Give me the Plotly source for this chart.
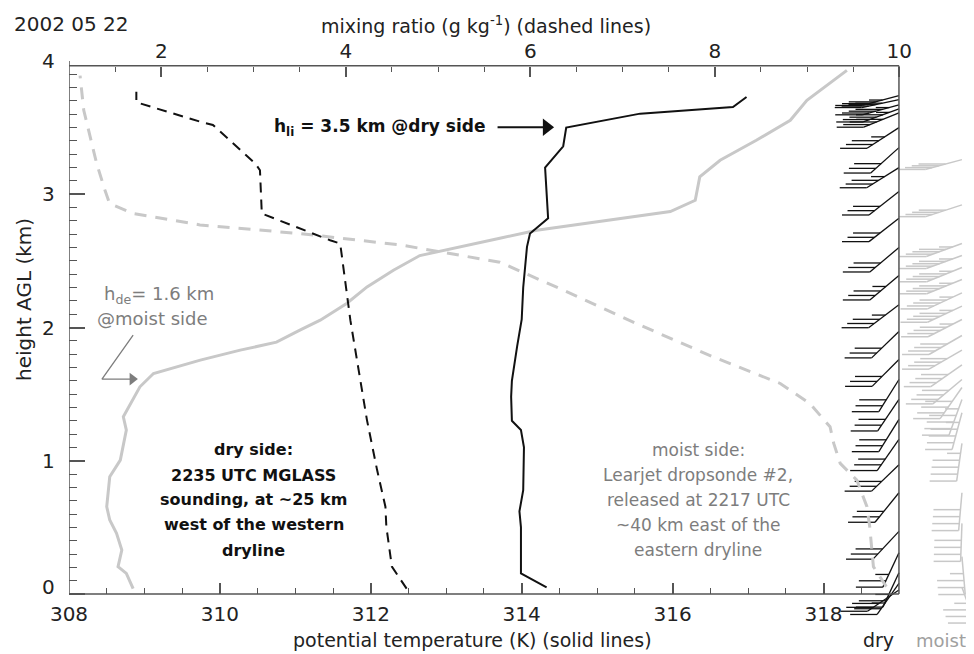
import math
import plotly.graph_objects as go

# ---------------- data ----------------
# dry side (MGLASS) potential temperature, K
dry_theta_h = [0.05, 0.155, 0.50, 0.62, 0.78, 1.10, 1.23, 1.30, 1.48, 1.60, 1.86, 2.06, 2.30,
               2.605, 2.705, 2.82, 3.20, 3.36, 3.50, 3.605, 3.655, 3.73]
dry_theta = [314.33, 313.99, 313.99, 313.97, 314.02, 314.03, 313.99, 313.87, 313.86, 313.87, 313.94,
             314.00, 314.02, 314.07, 314.11, 314.35, 314.31, 314.55, 314.59, 315.57, 316.80, 316.98]

# dry side mixing ratio, g/kg
dry_q_h = [0.04, 0.205, 0.505, 0.655, 0.93, 1.305, 1.68, 2.005, 2.055, 2.63, 2.655, 2.855,
           3.18, 3.23, 3.52, 3.545, 3.69, 3.77]
dry_q = [4.66, 4.50, 4.44, 4.43, 4.34, 4.23, 4.14, 4.06, 4.05, 3.94, 3.83, 3.09,
         3.07, 3.02, 2.56, 2.42, 1.73, 1.73]

# moist side (dropsonde) potential temperature, K
moist_theta_h = [0.04, 0.155, 0.205, 0.33, 0.455, 0.555, 0.655, 0.88, 1.005, 1.23, 1.33, 1.555,
                 1.655, 1.755, 1.83, 1.89, 1.98, 2.055, 2.18, 2.305, 2.43, 2.54, 2.67, 2.73,
                 2.87, 2.955, 3.13, 3.255, 3.405, 3.555, 3.705, 3.93]
moist_theta = [308.85, 308.76, 308.65, 308.70, 308.63, 308.54, 308.50, 308.54, 308.68, 308.76,
               308.72, 308.94, 309.12, 309.74, 310.27, 310.75, 311.06, 311.33, 311.68, 311.95,
               312.30, 312.65, 313.71, 314.20, 315.97, 316.30, 316.36, 316.63, 317.11, 317.56,
               317.78, 318.31]

# moist side mixing ratio, g/kg
moist_q_h = [0.055, 0.205, 0.505, 0.655, 0.855, 0.98, 1.13, 1.255, 1.43, 1.58, 1.78, 2.03,
             2.28, 2.49, 2.62, 2.705, 2.77, 2.855, 2.93, 3.03, 3.23, 3.63, 3.89]
moist_q = [9.86, 9.72, 9.68, 9.65, 9.54, 9.36, 9.29, 9.25, 9.03, 8.71, 7.98, 7.15,
           6.36, 5.67, 4.59, 3.50, 2.42, 1.70, 1.44, 1.39, 1.30, 1.16, 1.12]

# wind barbs: height (km), direction (deg), speed (kt)
dry_wind_h = [3.74, 3.71, 3.67, 3.64, 3.61, 3.50, 3.35, 3.20, 3.02, 2.82, 2.60, 2.39, 2.17,
              1.97, 1.76, 1.61, 1.46, 1.31, 1.16, 0.97, 0.76, 0.47, 0.31, 0.16, 0.08, 0.03]
dry_wind_dir = [255, 258, 255, 250, 248, 237, 228, 238, 232, 232, 230, 230, 233,
                226, 225, 212, 214, 212, 215, 226, 219, 223, 205, 205, 215, 236]
dry_wind_spd = [35, 40, 45, 45, 40, 35, 30, 35, 30, 30, 30, 35, 35,
                30, 30, 30, 30, 30, 30, 30, 30, 30, 25, 25, 25, 30]

moist_wind_h = [3.26, 2.92, 2.63, 2.54, 2.45, 2.36, 2.26, 2.16, 2.06, 1.94, 1.83, 1.72, 1.61,
                1.55, 1.46, 1.36, 1.13, 0.76, 0.53, 0.28, 0.05]
moist_wind_dir = [255, 252, 250, 250, 248, 248, 245, 245, 243, 240, 240, 235, 230,
                  215, 200, 195, 188, 185, 182, 175, 160]
moist_wind_spd = [40, 40, 45, 45, 45, 45, 45, 45, 45, 40, 40, 40, 40,
                  40, 45, 45, 45, 40, 40, 35, 35]

theta_ticks = [308, 310, 312, 314, 316, 318]
q_ticks = [2, 4, 6, 8, 10]
h_ticks = [0, 1, 2, 3, 4]

dry_lines = ["dry side:", "2235 UTC MGLASS", "sounding, at ~25 km",
             "west of the western", "dryline"]
moist_lines = ["moist side:", "Learjet dropsonde #2,", "released at 2217 UTC",
               "~40 km east of the", "eastern dryline"]

# ---------------- geometry / style ----------------
OFF = 8                      # page margin around the figure
SCREEN_W, SCREEN_H = 974, 654
W, H = SCREEN_W - OFF, SCREEN_H - OFF
LEFT_S, TOP_S, BOTTOM_S, ZERO_S = 69, 61, 632, 594   # screen pixels
ML, MT = LEFT_S - OFF, TOP_S - OFF
PX_PER_K = 75.45
PX_PER_KM = 133.25
PX_PER_Q = 92.25
THETA_MIN, THETA_MAX = 308.0, 319.0
Q_MIN = 1.0
H_TOP_FRAME = 3.965

x_range = [THETA_MIN, THETA_MIN + (SCREEN_W - LEFT_S) / PX_PER_K]
x2_range = [Q_MIN, Q_MIN + (SCREEN_W - LEFT_S) / PX_PER_Q]
y_range = [-(BOTTOM_S - ZERO_S) / PX_PER_KM, 4.0]
ysp = y_range[1] - y_range[0]

def yfrac(h):
    return (h - y_range[0]) / ysp

def paper_x(sx):
    return (sx - LEFT_S) / (SCREEN_W - LEFT_S)

def paper_y(sy):
    return (BOTTOM_S - sy) / (BOTTOM_S - TOP_S)

BLACK = "#111111"
MOIST = "#c8c8c8"
MOIST_TXT = "#7d7d7d"
AXC = "#555555"
FONT = "DejaVu Sans"

def barbs(base_theta, hs, dirs, spds, L=38, F=27, S=7):
    xs, ys = [], []
    for h, d, s in zip(hs, dirs, spds):
        r = math.radians(d)
        ux, uy = math.sin(r), math.cos(r)
        xs += [base_theta, base_theta + L * ux / PX_PER_K, None]
        ys += [h, h + L * uy / PX_PER_KM, None]
        pos = L
        nfull, half = s // 10, (s % 10) >= 5
        lens = [F] * nfull + ([F / 2] if half else [])
        for fl in lens:
            px, py = pos * ux, pos * uy
            xs += [base_theta + px / PX_PER_K, base_theta + (px - fl) / PX_PER_K, None]
            ys += [h + py / PX_PER_KM, h + py / PX_PER_KM, None]
            pos -= S
    return xs, ys

fig = go.Figure()

fig.add_trace(go.Scatter(x=moist_theta, y=moist_theta_h, mode="lines",
                         line=dict(color=MOIST, width=3), hoverinfo="skip"))
fig.add_trace(go.Scatter(x=moist_q, y=moist_q_h, xaxis="x2", mode="lines",
                         line=dict(color=MOIST, width=3, dash="12px,9px"), hoverinfo="skip"))
fig.add_trace(go.Scatter(x=dry_theta, y=dry_theta_h, mode="lines",
                         line=dict(color=BLACK, width=2), hoverinfo="skip"))
fig.add_trace(go.Scatter(x=dry_q, y=dry_q_h, xaxis="x2", mode="lines",
                         line=dict(color=BLACK, width=2, dash="10px,7px"), hoverinfo="skip"))

mx, my = barbs(THETA_MAX + 63 / PX_PER_K, moist_wind_h, moist_wind_dir, moist_wind_spd)
fig.add_trace(go.Scatter(x=mx, y=my, mode="lines", line=dict(color=MOIST, width=1.5),
                         hoverinfo="skip"))
dx, dy = barbs(THETA_MAX, dry_wind_h, dry_wind_dir, dry_wind_spd)
fig.add_trace(go.Scatter(x=dx, y=dy, mode="lines", line=dict(color=BLACK, width=1.3),
                         hoverinfo="skip"))

# annotation arrows (h_li and h_de markers)
fig.add_trace(go.Scatter(x=[313.68, 314.33], y=[3.503, 3.503], mode="lines",
                         line=dict(color=BLACK, width=2), hoverinfo="skip"))
fig.add_trace(go.Scatter(x=[314.33], y=[3.503], mode="markers",
                         marker=dict(symbol="triangle-right", size=15, color=BLACK,
                                     line=dict(width=0)), hoverinfo="skip"))
fig.add_trace(go.Scatter(x=[308.85, 308.437, 308.84], y=[1.943, 1.613, 1.613],
                         mode="lines", line=dict(color=MOIST_TXT, width=1.3), hoverinfo="skip"))
fig.add_trace(go.Scatter(x=[308.84], y=[1.613], mode="markers",
                         marker=dict(symbol="triangle-right", size=11, color=MOIST_TXT,
                                     line=dict(width=0)), hoverinfo="skip"))

# frame lines
frame = [
    (THETA_MIN, 0, THETA_MAX, 0),
    (THETA_MAX, 0, THETA_MAX, H_TOP_FRAME),
    (THETA_MIN, H_TOP_FRAME, THETA_MAX, H_TOP_FRAME),
    (THETA_MIN, 0, THETA_MIN, 4.0),
]
shapes = []
for x0, y0, x1, y1 in frame:
    shapes.append(dict(type="line", xref="x", yref="y", x0=x0, y0=y0, x1=x1, y1=y1,
                       line=dict(color=AXC, width=1.5), layer="above"))

ann = []
ann.append(dict(text="2002 05 22", xref="paper", yref="paper", x=paper_x(12), y=paper_y(24),
                xanchor="left", yanchor="middle", showarrow=False,
                font=dict(family=FONT, size=20, color="#222")))
ann.append(dict(text="mixing ratio (g kg<sup>-1</sup>) (dashed lines)", xref="paper", yref="paper",
                x=paper_x(486), y=paper_y(25), xanchor="center", yanchor="middle", showarrow=False,
                font=dict(family=FONT, size=19, color="#222")))
ann.append(dict(text="potential temperature (K) (solid lines)", xref="paper", yref="paper",
                x=paper_x(472), y=paper_y(640), xanchor="center", yanchor="middle", showarrow=False,
                font=dict(family=FONT, size=19, color="#222")))
ann.append(dict(text="height AGL (km)", xref="paper", yref="paper", textangle=-90,
                x=paper_x(24), y=paper_y(300), xanchor="center", yanchor="middle", showarrow=False,
                font=dict(family=FONT, size=20, color="#222")))
ann.append(dict(text="dry", xref="paper", yref="paper", x=paper_x(878), y=paper_y(640),
                xanchor="center", yanchor="middle", showarrow=False,
                font=dict(family=FONT, size=19, color="#222")))
ann.append(dict(text="moist", xref="paper", yref="paper", x=paper_x(941), y=paper_y(640),
                xanchor="center", yanchor="middle", showarrow=False,
                font=dict(family=FONT, size=18, color="#a0a0a0")))

# y tick labels (the "0" sits a little above its tick, as in the reference)
for v in h_ticks:
    ann.append(dict(text=str(v), x=paper_x(57), y=v + (0.05 if v == 0 else 0), xref="paper",
                    yref="y", xanchor="right", yanchor="middle", showarrow=False,
                    font=dict(family=FONT, size=20, color="#222")))

# h_li label
ann.append(dict(text="h<sub>li</sub> = 3.5 km @dry side", x=310.69, y=3.50, xref="x", yref="y",
                xanchor="left", yanchor="middle", showarrow=False,
                font=dict(family=FONT, size=17, color=BLACK, weight="bold")))
# h_de label
ann.append(dict(text="h<sub>de</sub>= 1.6 km", x=308.437, y=2.244, xref="x", yref="y",
                xanchor="left", yanchor="middle", showarrow=False,
                font=dict(family=FONT, size=18, color=MOIST_TXT)))
ann.append(dict(text="@moist side", x=308.345, y=2.071, xref="x", yref="y",
                xanchor="left", yanchor="middle", showarrow=False,
                font=dict(family=FONT, size=18, color=MOIST_TXT)))

line_h = [1.081, 0.893, 0.706, 0.518, 0.330]
for t, yy in zip(dry_lines, line_h):
    ann.append(dict(text=t, x=310.45, y=yy, xref="x", yref="y", xanchor="center",
                    yanchor="middle", showarrow=False,
                    font=dict(family=FONT, size=16, color=BLACK, weight="bold")))
for t, yy in zip(moist_lines, line_h):
    ann.append(dict(text=t, x=316.34, y=yy, xref="x", yref="y", xanchor="center",
                    yanchor="middle", showarrow=False,
                    font=dict(family=FONT, size=17, color=MOIST_TXT)))

tickfont = dict(family=FONT, size=20, color="#222")

def minor_vals(lo, hi, step, majors):
    n = int(round((hi - lo) / step))
    vals = [round(lo + i * step, 3) for i in range(n + 1)]
    return [v for v in vals if all(abs(v - m) > 1e-6 for m in majors)]

fig.update_layout(
    width=W, height=H,
    margin=dict(l=ML, r=0, t=MT, b=SCREEN_H - BOTTOM_S),
    plot_bgcolor="white", paper_bgcolor="white",
    showlegend=False,
    xaxis=dict(range=x_range, anchor="free", position=yfrac(0), showline=False,
               showgrid=False, zeroline=False, ticks="inside", ticklen=11, tickwidth=1.5,
               tickcolor=AXC, tickvals=theta_ticks, tickfont=tickfont, ticklabelstandoff=6,
               minor=dict(tickvals=minor_vals(308, 318.5, 0.5, theta_ticks), ticks="inside",
                          ticklen=6, tickwidth=1.2, tickcolor=AXC, showgrid=False)),
    xaxis2=dict(range=x2_range, overlaying="x", side="top", anchor="free",
                position=yfrac(H_TOP_FRAME), showline=False, showgrid=False, zeroline=False,
                ticks="inside", ticklen=10, tickwidth=1.5, tickcolor=AXC, tickvals=q_ticks,
                tickfont=tickfont, ticklabelstandoff=4,
                minor=dict(tickvals=minor_vals(1.5, 9.5, 0.5, q_ticks), ticks="inside",
                           ticklen=5, tickwidth=1.2, tickcolor=AXC, showgrid=False)),
    yaxis=dict(range=y_range, anchor="x", showline=False, showgrid=False, zeroline=False,
               ticks="inside", ticklen=16, tickwidth=1.5, tickcolor=AXC, tickvals=h_ticks,
               showticklabels=False,
               minor=dict(tickvals=minor_vals(0.1, 3.9, 0.1, h_ticks), ticks="inside",
                          ticklen=8, tickwidth=1.2, tickcolor=AXC, showgrid=False)),
    shapes=shapes,
    annotations=ann,
)

fig.write_html("out.html")
